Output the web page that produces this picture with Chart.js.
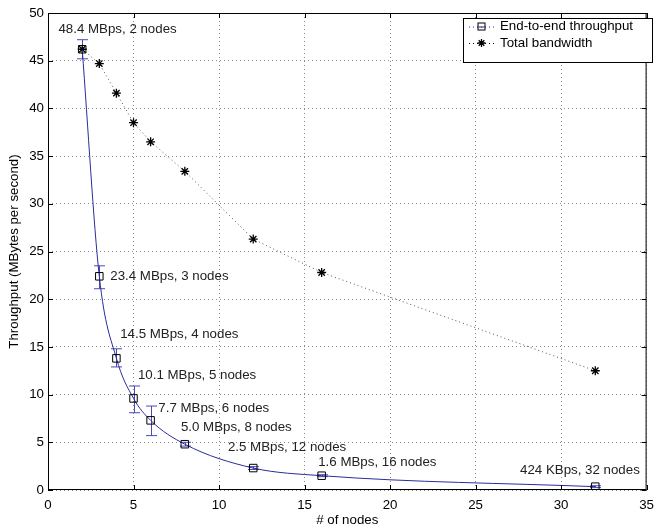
<!DOCTYPE html>
<html>
<head>
<meta charset="utf-8">
<script src="https://cdn.jsdelivr.net/npm/chart.js@4"></script>
<style>
  body { margin: 0; background: #fff; }
  #wrap { width: 661px; height: 529px; }
</style>
</head>
<body>
<div id="wrap"><canvas id="chart"></canvas></div>
<script>
// data
const nodes = [2, 3, 4, 5, 6, 8, 12, 16, 32];
const throughput = [46.2, 22.4, 13.8, 9.6, 7.3, 4.8, 2.3, 1.5, 0.35];
const errHigh = [47.2, 23.5, 14.8, 10.9, 8.8, 5.0, 2.45, 1.6, 0.45];
const errLow = [45.2, 21.1, 12.9, 8.1, 5.7, 4.6, 2.15, 1.4, 0.25];
const bandwidth = [46.2, 44.7, 41.6, 38.5, 36.5, 33.4, 26.3, 22.8, 12.5];

// text labels and where they sit (data units)
const noteText = ['48.4 MBps, 2 nodes', '23.4 MBps, 3 nodes', '14.5 MBps, 4 nodes', '10.1 MBps, 5 nodes',
  '7.7 MBps, 6 nodes', '5.0 MBps, 8 nodes', '2.5 MBps, 12 nodes', '1.6 MBps, 16 nodes', '424 KBps, 32 nodes'];
const noteX = [0.61, 3.64, 4.22, 5.26, 6.45, 7.77, 10.52, 15.8, 27.6];
const noteY = [48.3, 22.36, 16.33, 11.98, 8.56, 6.6, 4.43, 2.9, 2.02];

const seriesNames = ['End-to-end throughput', 'Total bandwidth'];
const xTitle = '# of nodes';
const yTitle = 'Throughput (MBytes per second)';

const FONT = '"Liberation Sans", Arial, Helvetica, sans-serif';
const FS = 13.3;
const BLUE = '#2b2b9c';

const extras = {
  id: 'extras',
  beforeDatasetsDraw(chart) {
    const { ctx } = chart;
    const xs = chart.scales.x, ys = chart.scales.y;
    // error bars
    ctx.save();
    ctx.strokeStyle = '#4a4ab8';
    ctx.lineWidth = 1;
    nodes.forEach((n, i) => {
      const px = Math.round(xs.getPixelForValue(n)) + 0.5;
      const hi = ys.getPixelForValue(errHigh[i]);
      const lo = ys.getPixelForValue(errLow[i]);
      ctx.beginPath();
      ctx.moveTo(px, hi); ctx.lineTo(px, lo);
      ctx.moveTo(px - 5.5, hi); ctx.lineTo(px + 5.5, hi);
      ctx.moveTo(px - 5.5, lo); ctx.lineTo(px + 5.5, lo);
      ctx.stroke();
    });
    ctx.restore();
  },
  afterDraw(chart) {
    const { ctx, chartArea: a } = chart;
    const xs = chart.scales.x, ys = chart.scales.y;
    ctx.save();
    // frame
    ctx.strokeStyle = '#000';
    ctx.lineWidth = 1;
    ctx.strokeRect(a.left + 0.5, a.top + 0.5, a.right - a.left - 1, a.bottom - a.top - 1);
    // inward ticks
    ctx.beginPath();
    xs.ticks.forEach(t => {
      const px = Math.round(xs.getPixelForValue(t.value)) + 0.5;
      ctx.moveTo(px, a.bottom); ctx.lineTo(px, a.bottom - 5);
      ctx.moveTo(px, a.top); ctx.lineTo(px, a.top + 5);
    });
    ys.ticks.forEach(t => {
      const py = Math.round(ys.getPixelForValue(t.value)) + 0.5;
      ctx.moveTo(a.left, py); ctx.lineTo(a.left + 5, py);
      ctx.moveTo(a.right, py); ctx.lineTo(a.right - 5, py);
    });
    ctx.stroke();

    // annotations
    ctx.fillStyle = '#222';
    ctx.font = FS + 'px ' + FONT;
    ctx.textBaseline = 'middle';
    ctx.textAlign = 'left';
    noteText.forEach((s, i) => {
      ctx.fillText(s, xs.getPixelForValue(noteX[i]), ys.getPixelForValue(noteY[i]));
    });

    // axis titles
    ctx.fillStyle = '#000';
    ctx.textAlign = 'center';
    ctx.fillText(xTitle, (a.left + a.right) / 2, 520);
    ctx.save();
    ctx.translate(14, (a.top + a.bottom) / 2);
    ctx.rotate(-Math.PI / 2);
    ctx.fillText(yTitle, 0, 0);
    ctx.restore();

    // legend
    const lx = 463, ly = 18, lw = 189, lh = 44;
    ctx.fillStyle = '#fff';
    ctx.fillRect(lx, ly, lw, lh);
    ctx.strokeStyle = '#000';
    ctx.strokeRect(lx + 0.5, ly + 0.5, lw, lh);
    const rows = [26.5, 43];
    rows.forEach((ry, i) => {
      // sample line
      ctx.strokeStyle = i === 0 ? BLUE : '#000';
      ctx.setLineDash([1, 3]);
      ctx.beginPath();
      ctx.moveTo(469, ry + 0.5); ctx.lineTo(494, ry + 0.5);
      ctx.stroke();
      ctx.setLineDash([]);
      ctx.strokeStyle = '#000';
      const mx = 481.5;
      if (i === 0) {
        ctx.strokeRect(mx - 3.5, ry - 3.5, 7, 7);
        ctx.strokeStyle = BLUE;
        ctx.beginPath(); ctx.moveTo(mx - 3.5, ry + 0.5); ctx.lineTo(mx + 3.5, ry + 0.5); ctx.stroke();
      } else {
        ctx.lineWidth = 1.3;
        ctx.beginPath();
        for (let k = 0; k < 4; k++) {
          const ang = k * Math.PI / 4;
          ctx.moveTo(mx - 4 * Math.cos(ang), ry - 4 * Math.sin(ang));
          ctx.lineTo(mx + 4 * Math.cos(ang), ry + 4 * Math.sin(ang));
        }
        ctx.stroke();
        ctx.lineWidth = 1;
      }
      ctx.fillStyle = '#000';
      ctx.textAlign = 'left';
      ctx.fillText(seriesNames[i], 500, ry);
    });
    ctx.restore();
  }
};

new Chart(document.getElementById('chart'), {
  type: 'line',
  data: {
    datasets: [
      {
        label: seriesNames[0],
        data: nodes.map((n, i) => ({ x: n, y: throughput[i] })),
        borderColor: BLUE,
        borderWidth: 1,
        cubicInterpolationMode: 'monotone',
        pointStyle: 'rect',
        pointRadius: 5.3,
        pointBorderColor: '#000',
        pointBackgroundColor: 'rgba(0,0,0,0)',
        pointBorderWidth: 1,
        fill: false
      },
      {
        label: seriesNames[1],
        data: nodes.map((n, i) => ({ x: n, y: bandwidth[i] })),
        borderColor: '#555',
        borderWidth: 1,
        borderDash: [1, 3],
        tension: 0,
        pointStyle: 'star',
        pointRadius: 4.5,
        pointBorderColor: '#000',
        pointBorderWidth: 1.3,
        fill: false
      }
    ]
  },
  options: {
    responsive: true,
    maintainAspectRatio: false,
    animation: false,
    layout: { padding: { left: 0, right: 3, top: 13, bottom: 0 } },
    plugins: { legend: { display: false }, tooltip: { enabled: false } },
    scales: {
      x: {
        type: 'linear',
        min: 0, max: 35,
        ticks: { stepSize: 5, padding: 7, color: '#000', font: { family: FONT, size: FS } },
        grid: { color: '#888', drawTicks: false },
        border: { display: false, dash: [1, 3] },
        afterFit: s => { s.height = 39; }
      },
      y: {
        min: 0, max: 50,
        ticks: { stepSize: 5, padding: 4, color: '#000', font: { family: FONT, size: FS } },
        grid: { color: '#888', drawTicks: false },
        border: { display: false, dash: [1, 3] },
        afterFit: s => { s.width = 48; }
      }
    }
  },
  plugins: [extras]
});
</script>
</body>
</html>
